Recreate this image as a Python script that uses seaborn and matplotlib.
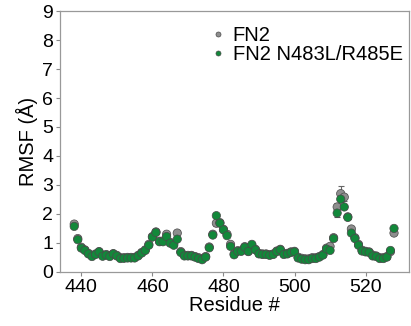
import numpy as np
import pandas as pd
import seaborn as sns
import matplotlib.pyplot as plt

sns.set_style("ticks")
plt.rcParams['font.family'] = ['Liberation Sans', 'DejaVu Sans']
plt.rcParams['text.color'] = 'black'
plt.rcParams['axes.labelcolor'] = 'black'
plt.rcParams['xtick.labelcolor'] = 'black'
plt.rcParams['ytick.labelcolor'] = 'black'

# residue numbers
residues = list(range(438, 529))

# RMSF of the mutant (green)
rmsf_mut = [1.57, 1.11, 0.82, 0.74, 0.62, 0.53, 0.60, 0.69, 0.54, 0.58,
            0.53, 0.62, 0.55, 0.46, 0.47, 0.48, 0.48, 0.48, 0.55, 0.65,
            0.74, 0.92, 1.20, 1.36, 1.04, 1.04, 1.22, 0.99, 0.92, 1.13,
            0.67, 0.55, 0.55, 0.55, 0.51, 0.46, 0.42, 0.51, 0.83, 1.27,
            1.94, 1.68, 1.45, 1.25, 0.88, 0.59, 0.71, 0.71, 0.85, 0.71,
            0.95, 0.76, 0.62, 0.60, 0.60, 0.57, 0.60, 0.70, 0.76, 0.60,
            0.62, 0.67, 0.69, 0.48, 0.44, 0.42, 0.42, 0.46, 0.46, 0.51,
            0.58, 0.79, 0.74, 1.15, 2.03, 2.51, 2.24, 1.88, 1.34, 1.15,
            0.92, 0.72, 0.69, 0.67, 0.55, 0.53, 0.46, 0.46, 0.51, 0.74,
            1.50]

# RMSF of wild type FN2 (grey)
rmsf_wt = [1.65, 1.15, 0.85, 0.76, 0.64, 0.56, 0.62, 0.70, 0.57, 0.60,
           0.56, 0.63, 0.57, 0.49, 0.49, 0.50, 0.50, 0.50, 0.57, 0.67,
           0.76, 0.95, 1.22, 1.38, 1.06, 1.07, 1.30, 1.02, 0.95, 1.34,
           0.70, 0.58, 0.57, 0.57, 0.53, 0.49, 0.45, 0.53, 0.86, 1.30,
           1.68, 1.70, 1.47, 1.30, 0.95, 0.62, 0.73, 0.73, 0.87, 0.70,
           0.90, 0.78, 0.64, 0.62, 0.62, 0.60, 0.62, 0.72, 0.78, 0.63,
           0.64, 0.69, 0.71, 0.51, 0.47, 0.45, 0.45, 0.49, 0.49, 0.53,
           0.60, 0.82, 0.88, 1.18, 2.24, 2.70, 2.58, 1.90, 1.48, 1.18,
           0.95, 0.75, 0.71, 0.69, 0.58, 0.55, 0.49, 0.49, 0.53, 0.70,
           1.34]

err_wt = np.full(len(residues), 0.04)
err_wt[[29, 40, 74, 75, 76, 78]] = [0.12, 0.08, 0.15, 0.25, 0.12, 0.10]
err_mut = np.full(len(residues), 0.04)
err_mut[[74, 75, 76]] = [0.15, 0.10, 0.08]

df = pd.DataFrame({
    'Residue': residues * 2,
    'RMSF': rmsf_wt + rmsf_mut,
    'Protein': ['FN2'] * len(residues) + ['FN2 N483L/R485E'] * len(residues),
})

fig = plt.figure(figsize=(4.11, 3.26), dpi=100)
ax = fig.add_axes([0.146, 0.166, 0.849, 0.800])

ax.errorbar(residues, rmsf_wt, yerr=err_wt, fmt='none', ecolor='#666666',
            elinewidth=0.8, capsize=2, capthick=0.8, zorder=1)
ax.errorbar(residues, rmsf_mut, yerr=err_mut, fmt='none', ecolor='#555555',
            elinewidth=0.8, capsize=2, capthick=0.8, zorder=1)

sns.scatterplot(data=df, x='Residue', y='RMSF', hue='Protein',
                palette={'FN2': '#8e8e8e', 'FN2 N483L/R485E': '#12883a'},
                s=36, edgecolor='#4a4a4a', linewidth=0.5, ax=ax, zorder=2)

ax.set_xlim(434, 532.2)
ax.set_ylim(0, 9)
ax.set_xticks([440, 460, 480, 500, 520])
ax.set_yticks(range(0, 10))
ax.set_xlabel('Residue #', fontsize=14.5, labelpad=0)
ax.set_ylabel('RMSF (Å)', fontsize=14.5, labelpad=3)
ax.tick_params(labelsize=14, length=3, width=0.8, color='#888888', pad=2)
for sp in ax.spines.values():
    sp.set_color('#999999')
    sp.set_linewidth(0.9)

ax.legend(loc='upper left', bbox_to_anchor=(0.385, 0.995), frameon=False,
          fontsize=14.5, markerscale=0.6, handlelength=0.9, handletextpad=0.3,
          borderpad=0.2, labelspacing=0.0, title=None)

fig.savefig('out.png', dpi=100)
